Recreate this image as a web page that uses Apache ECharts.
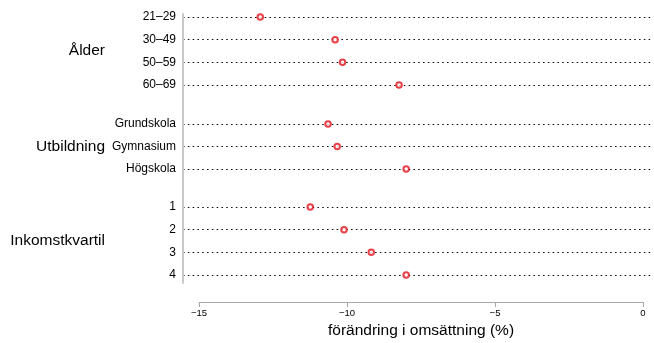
<!DOCTYPE html>
<html>
<head>
<meta charset="utf-8">
<script src="https://cdn.jsdelivr.net/npm/echarts@6/dist/echarts.min.js"></script>
<style>
  html, body { margin: 0; padding: 0; background: #fff; }
  #chart { width: 654px; height: 343px; }
</style>
</head>
<body>
<div id="chart"></div>
<script>
const FONT_FAMILY = "'Liberation Sans', Arial, sans-serif"

// data
const groupNames = ['Ålder', 'Utbildning', 'Inkomstkvartil']
const ageLabels = ['21–29', '30–49', '50–59', '60–69']
const ageValues = [-12.93, -10.4, -10.15, -8.24]
const eduLabels = ['Grundskola', 'Gymnasium', 'Högskola']
const eduValues = [-10.64, -10.33, -8.0]
const incomeLabels = ['1', '2', '3', '4']
const incomeValues = [-11.24, -10.1, -9.18, -8.0]
const xTickMin = -15
const xTickMax = 0
const xTickStep = 5
const xTitle = 'förändring i omsättning (%)'

// plot area stretches a little past the tick range, like the original
const plotMin = -15.54
const plotMax = 0.34

const COLORS = {
  text: '#000',
  dots: '#111',
  frame: '#c8c8c8',
  axis: '#a8a8a8',
  point: '#e3121b',
}

const groups = [
  { labels: ageLabels, values: ageValues, top: 17, height: 68 },
  { labels: eduLabels, values: eduValues, top: 124, height: 45 },
  { labels: incomeLabels, values: incomeValues, top: 207, height: 68 },
]

const chart = echarts.init(document.getElementById('chart'))

const grid = []
const xAxis = []
const yAxis = []
const series = []

groups.forEach((g, i) => {
  grid.push({ left: 183, right: 1, top: g.top, height: g.height })
  xAxis.push({
    gridIndex: i, type: 'value', min: plotMin, max: plotMax, show: false,
    splitLine: { show: false },
  })
  yAxis.push({
    gridIndex: i,
    type: 'category',
    data: g.labels,
    inverse: true,
    boundaryGap: false,
    name: groupNames[i],
    nameLocation: 'middle',
    nameRotate: 0,
    nameGap: 78,
    nameTextStyle: {
      fontFamily: FONT_FAMILY, fontSize: 15.5, color: COLORS.text,
      align: 'right', verticalAlign: 'middle', padding: [3, 0, 0, 0],
    },
    axisLine: { show: false },
    axisTick: { show: false },
    axisLabel: {
      interval: 0, margin: 7,
      fontFamily: FONT_FAMILY, fontSize: 12, color: COLORS.text,
    },
    splitLine: {
      show: true, interval: 0,
      lineStyle: { color: COLORS.dots, width: 1.2, type: [1.6, 3.2] },
    },
  })
  series.push({
    type: 'scatter',
    xAxisIndex: i,
    yAxisIndex: i,
    data: g.values.map((v, j) => [v, g.labels[j]]),
    symbol: 'emptyCircle',
    symbolSize: 5.5,
    itemStyle: { color: COLORS.point, borderColor: COLORS.point, borderWidth: 1.6 },
    z: 5,
  })
})

// grey vertical frame line on the left
grid.push({ left: 183, right: 1, top: 14, bottom: 60 })
xAxis.push({ gridIndex: 3, type: 'value', show: false, splitLine: { show: false } })
yAxis.push({
  gridIndex: 3, type: 'value', min: 0, max: 1,
  axisLine: { show: true, lineStyle: { color: COLORS.frame, width: 2 } },
  axisTick: { show: false }, axisLabel: { show: false }, splitLine: { show: false },
})

// bottom value axis
grid.push({ left: 199, right: 11, top: 290, bottom: 41 })
xAxis.push({
  gridIndex: 4,
  type: 'value',
  min: xTickMin,
  max: xTickMax,
  interval: xTickStep,
  name: xTitle,
  nameLocation: 'middle',
  nameGap: 21,
  nameTextStyle: { fontFamily: FONT_FAMILY, fontSize: 15.5, color: COLORS.text },
  axisLine: { show: true, lineStyle: { color: COLORS.axis, width: 1 } },
  axisTick: { show: true, length: 5, lineStyle: { color: COLORS.axis, width: 1 } },
  axisLabel: {
    margin: 6, fontFamily: FONT_FAMILY, fontSize: 9.5, color: COLORS.text,
    formatter: v => String(v).replace('-', '−'),
  },
  splitLine: { show: false },
})
yAxis.push({ gridIndex: 4, type: 'value', show: false, splitLine: { show: false } })

chart.setOption({
  animation: false,
  grid,
  xAxis,
  yAxis,
  series,
})
</script>
</body>
</html>
